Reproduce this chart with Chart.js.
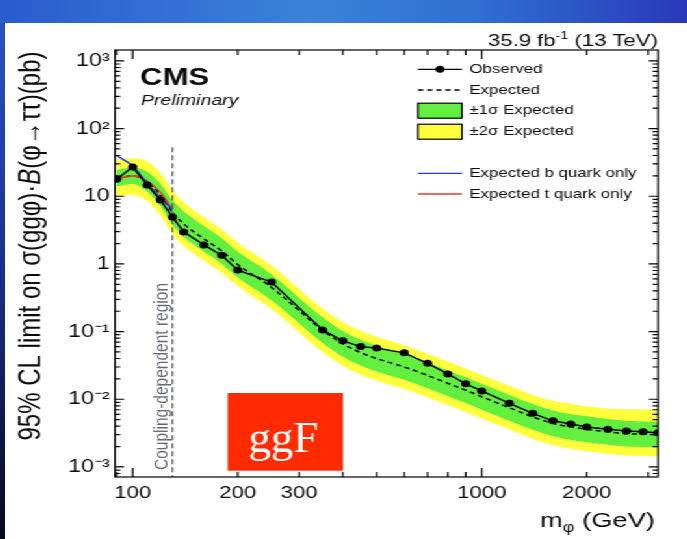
<!DOCTYPE html>
<html>
<head>
<meta charset="utf-8">
<script src="https://cdn.jsdelivr.net/npm/chart.js@4/dist/chart.umd.min.js"></script>
<style>
  html,body{margin:0;padding:0;overflow:hidden;}
  body{width:687px;height:539px;position:relative;background:linear-gradient(#2b56c4,#1a2f8a 50%,#08081e);}
  #top{position:absolute;left:0;top:0;width:687px;height:23px;background:linear-gradient(90deg,#2a5ccc,#3a82da 45%,#2f6fd0 70%,#2a38b8);}
  #wrap{position:absolute;left:5px;top:23px;width:525px;height:516px;background:#fff;transform:scaleX(1.3);transform-origin:0 0;}
  canvas{display:block;}
</style>
</head>
<body>
<div id="top"></div>
<div id="wrap"><canvas id="limit"></canvas></div>
<script>
const FAM='"Liberation Sans", Arial, sans-serif';
const S=1.3;// the slide is stretched sideways, the wrapper div does the same

// mass points (GeV)
const masses=[90,100,110,120,130,140,160,180,200,250,350,400,450,500,600,700,800,900,1000,1200,1400,1600,1800,2000,2300,2600,2900,3200];
const observed=[17.8,27,14.7,8.8,4.95,2.97,1.91,1.34,0.81,0.54,0.106,0.073,0.060,0.057,0.0485,0.034,0.0237,0.0169,0.0133,0.0087,0.0062,0.0048,0.0043,0.0039,0.0036,0.0034,0.0033,0.0032];
const expected=[18.5,20,16.5,10.5,5.8,3.9,2.35,1.55,0.98,0.45,0.105,0.066,0.049,0.040,0.030,0.0225,0.0172,0.0136,0.0109,0.0075,0.0055,0.0044,0.0039,0.0036,0.0033,0.0031,0.00305,0.0030];
const exp1Up=[24.4,26.5,23,15.5,8.8,6.0,3.65,2.4,1.52,0.70,0.163,0.102,0.076,0.062,0.0465,0.0349,0.0267,0.0211,0.0169,0.0116,0.0085,0.0068,0.0060,0.0056,0.0051,0.0048,0.0047,0.00465];
const exp1Dn=[14.0,15.2,11.8,7.2,3.8,2.5,1.52,1.0,0.63,0.29,0.068,0.0425,0.0316,0.0258,0.0194,0.0145,0.0111,0.0088,0.0070,0.0048,0.00355,0.00284,0.0025,0.00232,0.00213,0.0020,0.00197,0.00194];
const exp2Up=[35,36,33,22,12.5,8.2,4.9,3.25,2.05,0.95,0.22,0.139,0.103,0.084,0.063,0.047,0.036,0.0286,0.0229,0.0158,0.0116,0.0095,0.0085,0.0078,0.0073,0.0071,0.0071,0.0070];
const exp2Dn=[10,10.4,8.5,5.2,2.8,1.85,1.12,0.74,0.47,0.215,0.050,0.0314,0.0233,0.019,0.0143,0.0107,0.0082,0.0065,0.0052,0.0036,0.0026,0.0021,0.00186,0.00171,0.00157,0.00148,0.00145,0.00143];

// coupling-dependent region curves
const quarkMasses=[90,100,110,120,130];
const bQuarkOnly=[40,28.6,15.5,9.6,6.4];
const tQuarkOnly=[18.2,20,16.8,11.4,6.4];
const couplingMass=130;
const couplingSpan=[53,0.00071];

const xTickValues=[100,200,300,1000,2000];
const yTickValues=[0.001,0.01,0.1,1,10,100,1000];
const yTickLabels=['10\u207B\u00B3','10\u207B\u00B2','10\u207B\u00B9','1','10','10\u00B2','10\u00B3'];

const YELLOW='#ffff3c', GREEN='#62ef3f';

const pts=(xs,ys)=>xs.map((m,i)=>({x:m,y:ys[i]}));

function runs(ctx,list,x,y,align){
  let w=0;
  list.forEach(r=>{ctx.font=r.font;w+=ctx.measureText(r.t).width;});
  let cx=align==='right'?x-w:align==='center'?x-w/2:x;
  list.forEach(r=>{ctx.font=r.font;ctx.fillText(r.t,cx,y+(r.dy||0));cx+=ctx.measureText(r.t).width;});
}// draws a line of mixed-font text

const decor={
  id:'decor',
  afterDatasetsDraw(chart){
    const {ctx,chartArea:a,scales:{x,y}}=chart;
    ctx.save();
    ctx.strokeStyle='#000';
    ctx.lineWidth=1.2;
    ctx.strokeRect(a.left,a.top,a.right-a.left,a.bottom-a.top);
    ctx.beginPath();
    for(let d=1;d<=3;d++) for(let k=1;k<10;k++){
      const v=k*Math.pow(10,d);
      if(v<x.min||v>x.max) continue;
      const px=x.getPixelForValue(v), len=k===1?9:5;
      ctx.moveTo(px,a.bottom);ctx.lineTo(px,a.bottom-len);
      ctx.moveTo(px,a.top);ctx.lineTo(px,a.top+len);
    }
    for(let d=-4;d<=3;d++) for(let k=1;k<10;k++){
      const v=k*Math.pow(10,d);
      if(v<y.min||v>y.max) continue;
      const py=y.getPixelForValue(v), len=k===1?7:4;
      ctx.moveTo(a.left,py);ctx.lineTo(a.left+len,py);
      ctx.moveTo(a.right,py);ctx.lineTo(a.right-len,py);
    }
    ctx.stroke();
    ctx.restore();
  },
  afterDraw(chart){
    const ctx=chart.ctx;
    ctx.save();
    ctx.fillStyle='#0a0a0a';
    ctx.textBaseline='alphabetic';
    // lumi label
    runs(ctx,[{t:'35.9 fb',font:`17px ${FAM}`},{t:'-1',font:`11px ${FAM}`,dy:-7},{t:' (13 TeV)',font:`17px ${FAM}`}],502.3,23,'right');
    // CMS Preliminary
    ctx.font=`bold 24px ${FAM}`;ctx.fillText('CMS',103.8,62);
    ctx.font=`italic 15px ${FAM}`;ctx.fillText('Preliminary',104.6,82);
    // x title
    runs(ctx,[{t:'m',font:`21px ${FAM}`},{t:'\u03C6',font:`14px ${FAM}`,dy:5},{t:' (GeV)',font:`21px ${FAM}`}],500,503.7,'right');
    // y title
    ctx.save();
    ctx.translate(20,223);ctx.rotate(-Math.PI/2);
    ctx.textBaseline='middle';
    runs(ctx,[{t:'95% CL limit on \u03C3(gg\u03C6)\u00B7',font:`24px ${FAM}`},{t:'B',font:`italic 24px ${FAM}`},{t:'(\u03C6\u2192\u03C4\u03C4)(pb)',font:`24px ${FAM}`}],0,0,'center');
    ctx.restore();
    // coupling-dependent region label
    ctx.save();
    ctx.translate(120.5,447);ctx.rotate(-Math.PI/2);
    ctx.textBaseline='middle';ctx.fillStyle='#66687a';
    ctx.font=`15.5px ${FAM}`;ctx.fillText('Coupling-dependent region',0,0);
    ctx.restore();
    // legend
    const lx0=317.7,lx1=351.5,tx=357.2;
    const rows=[46.3,67,87.7,108.7,150.3,171];
    const labels=['Observed','Expected','\u00B11\u03C3 Expected','\u00B12\u03C3 Expected','Expected b quark only','Expected t quark only'];
    ctx.lineWidth=1.3;
    ctx.strokeStyle='#000';
    ctx.beginPath();ctx.moveTo(lx0,rows[0]);ctx.lineTo(lx1,rows[0]);ctx.stroke();
    ctx.beginPath();ctx.ellipse((lx0+lx1)/2,rows[0],3.5,3.5,0,0,2*Math.PI);ctx.fillStyle='#000';ctx.fill();
    ctx.setLineDash([4,3]);ctx.beginPath();ctx.moveTo(lx0,rows[1]);ctx.lineTo(lx1,rows[1]);ctx.stroke();ctx.setLineDash([]);
    [[GREEN,rows[2]],[YELLOW,rows[3]]].forEach(([c,ry])=>{
      ctx.fillStyle=c;ctx.fillRect(lx0,ry-7.5,lx1-lx0,15);
      ctx.strokeStyle='#000';ctx.lineWidth=1.2;ctx.strokeRect(lx0,ry-7.5,lx1-lx0,15);
    });
    [['#2233ee',rows[4]],['#ee3322',rows[5]]].forEach(([c,ry])=>{
      ctx.strokeStyle=c;ctx.lineWidth=1.3;ctx.beginPath();ctx.moveTo(lx0,ry);ctx.lineTo(lx1,ry);ctx.stroke();
    });
    ctx.fillStyle='#0a0a0a';ctx.textBaseline='middle';ctx.font=`13px ${FAM}`;
    labels.forEach((l,i)=>ctx.fillText(l,tx,rows[i]));
    // ggF box (overlay, not stretched)
    ctx.fillStyle='#ff2a00';ctx.fillRect(171.3,370,88.7,77.7);
    ctx.translate(214.1,428.7);ctx.scale(1/S,1);
    ctx.fillStyle='#fff';ctx.textAlign='center';ctx.textBaseline='alphabetic';
    ctx.font='45px "Liberation Serif", "Times New Roman", serif';
    ctx.fillText('ggF',0,0);
    ctx.restore();
  }
};

const band=(data,color,fill,order)=>({data,backgroundColor:color,borderWidth:0,pointRadius:0,fill,order,cubicInterpolationMode:'monotone'});

new Chart(document.getElementById('limit'),{
  type:'line',
  data:{
    datasets:[
      band(pts(masses,exp2Up),YELLOW,'+1',10),
      band(pts(masses,exp2Dn),YELLOW,false,11),
      band(pts(masses,exp1Up),GREEN,'+1',8),
      band(pts(masses,exp1Dn),GREEN,false,9),
      {data:pts(masses,expected),borderColor:'#000',borderWidth:1.5,borderDash:[4,3],pointRadius:0,fill:false,order:5,cubicInterpolationMode:'monotone'},
      {data:pts(quarkMasses,bQuarkOnly),borderColor:'#2233ee',borderWidth:1.5,pointRadius:0,fill:false,order:3},
      {data:pts(quarkMasses,tQuarkOnly),borderColor:'#ee3322',borderWidth:1.5,pointRadius:0,fill:false,order:3,cubicInterpolationMode:'monotone'},
      {data:couplingSpan.map(v=>({x:couplingMass,y:v})),borderColor:'#555',borderWidth:1.2,borderDash:[5,3],pointRadius:0,fill:false,order:6},
      {data:pts(masses,observed),borderColor:'#000',borderWidth:1.5,pointRadius:3.5,pointBackgroundColor:'#000',pointBorderWidth:0,fill:false,order:1}
    ]
  },
  options:{
    responsive:true,
    maintainAspectRatio:false,
    animation:false,
    layout:{padding:{left:0,right:22.7,top:27,bottom:0}},
    plugins:{legend:{display:false},tooltip:{enabled:false}},
    scales:{
      x:{
        type:'logarithmic',min:89,max:3200,
        grid:{display:false,drawTicks:false},border:{display:false},
        afterBuildTicks:s=>{s.ticks=xTickValues.map(v=>({value:v}));},
        afterFit:s=>{s.height=62;},
        ticks:{autoSkip:false,maxRotation:0,padding:6,color:'#0a0a0a',font:{size:17,family:FAM},callback:v=>String(v)}
      },
      y:{
        type:'logarithmic',min:0.00071,max:1450,
        grid:{display:false,drawTicks:false},border:{display:false},
        afterBuildTicks:s=>{s.ticks=yTickValues.map(v=>({value:v}));},
        afterFit:s=>{s.width=84.6;},
        ticks:{padding:4,color:'#0a0a0a',font:{size:18,family:FAM},
          callback:v=>yTickLabels[yTickValues.findIndex(t=>Math.abs(Math.log10(t/v))<0.01)]}
      }
    }
  },
  plugins:[decor]
});
</script>
</body>
</html>
